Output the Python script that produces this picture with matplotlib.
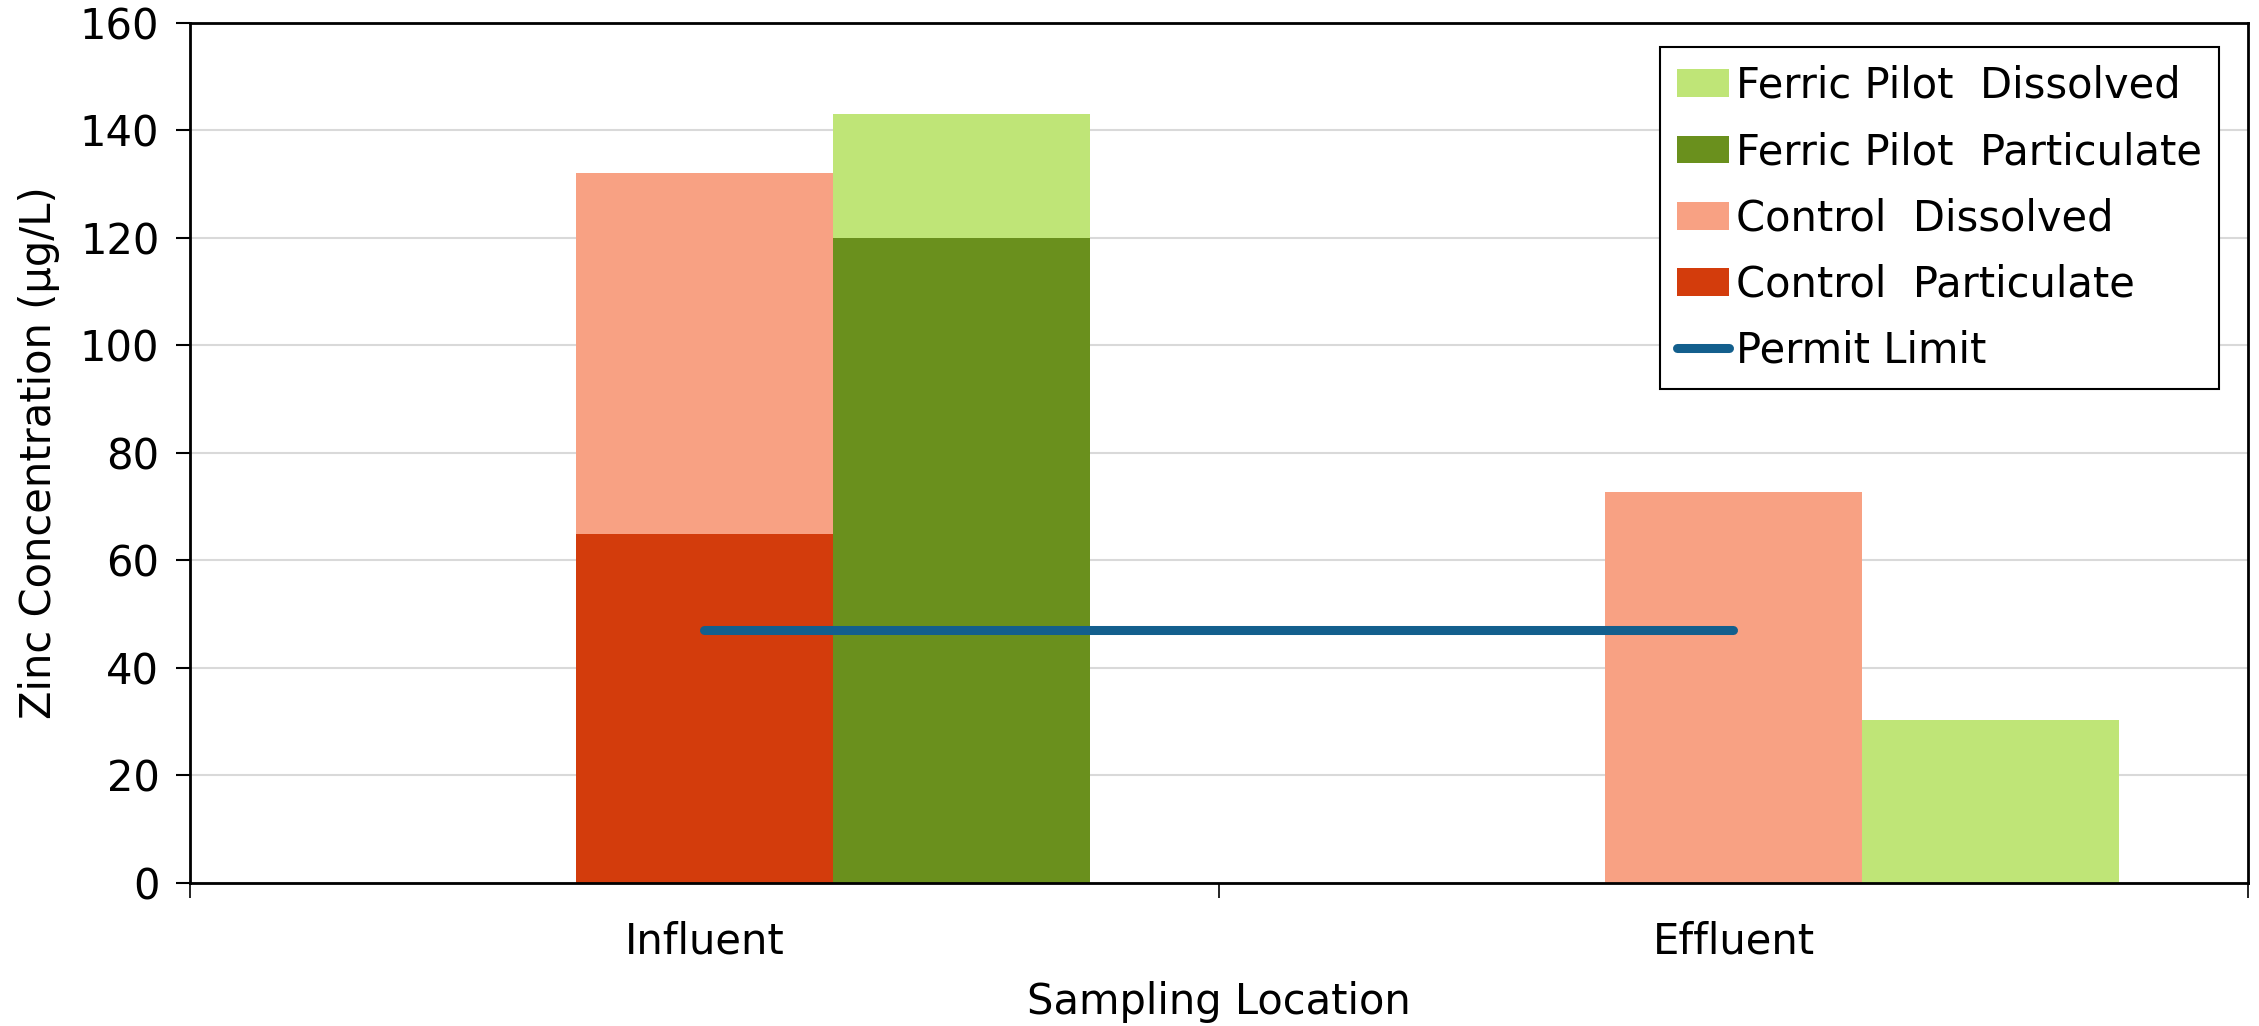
import matplotlib
matplotlib.use("Agg")
import matplotlib.pyplot as plt
import numpy as np

# data
locations = ["Influent", "Effluent"]
control_particulate = [65, 0]
control_dissolved = [67, 72.8]
ferric_particulate = [120, 0]
ferric_dissolved = [23, 30.3]
permit_limit = [47, 47]

plt.rcParams['font.family'] = ['DejaVu Sans']
plt.rcParams['font.size'] = 30

fig = plt.figure(figsize=(22.59, 10.26), dpi=100)
ax = fig.add_axes([0.0841, 0.1394, 0.9110, 0.8382])

x = np.arange(len(locations))
w = 0.25

c_part = ax.bar(x, control_particulate, w, color="#D33C0C", zorder=2)
c_diss = ax.bar(x, control_dissolved, w, bottom=control_particulate, color="#F8A183", zorder=2)
f_part = ax.bar(x + w, ferric_particulate, w, color="#6A901D", zorder=2)
f_diss = ax.bar(x + w, ferric_dissolved, w, bottom=ferric_particulate, color="#BFE577", zorder=2)
line, = ax.plot(x, permit_limit, color="#135F8D", lw=6.5, solid_capstyle="round", zorder=3)

ax.set_xlim(-0.5, 1.5)
ax.set_ylim(0, 160)
ax.set_yticks(range(0, 161, 20))
ax.yaxis.grid(True, color="#D9D9D9", lw=1.5, zorder=0)

ax.set_xticks([-0.5, 0.5, 1.5])
ax.set_xticklabels([])
ax.set_xticks(x, minor=True)
ax.set_xticklabels(locations, minor=True)
ax.tick_params(axis="x", which="minor", length=0, pad=27)
ax.tick_params(axis="x", which="major", length=11, width=1.2)
ax.tick_params(axis="y", length=10, width=1.5, pad=12)

for s in ax.spines.values():
    s.set_linewidth(2)
    s.set_color("black")

ax.set_ylabel("Zinc Concentration (µg/L)", labelpad=14)
ax.set_xlabel("Sampling Location", labelpad=13)

leg = ax.legend([f_diss, f_part, c_diss, c_part, line],
                ["Ferric Pilot  Dissolved", "Ferric Pilot  Particulate",
                 "Control  Dissolved", "Control  Particulate", "Permit Limit"],
                loc="upper right", bbox_to_anchor=(0.986, 0.9715),
                fancybox=False, framealpha=1, edgecolor="black",
                handlelength=1.25, handleheight=0.65, handletextpad=0.15,
                labelspacing=0.58, borderpad=0.42, borderaxespad=0)
leg.get_frame().set_linewidth(1.5)

fig.savefig("out.png", dpi=100)
